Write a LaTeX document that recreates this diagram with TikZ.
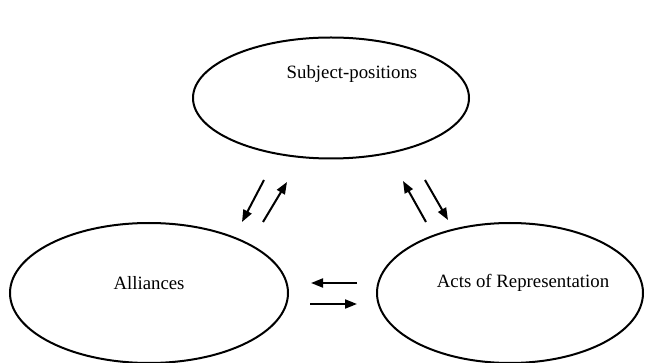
\documentclass[tikz,border=0pt]{standalone}
\usepackage{fontspec}
\setmainfont{Liberation Serif}
\usetikzlibrary{shapes.geometric,arrows.meta}
\begin{document}
\begin{tikzpicture}[x=1pt,y=-1pt,
  oval/.style={draw,ellipse,line width=2pt,inner sep=0pt},
  lbl/.style={font=\fontsize{18.8}{21}\selectfont,inner sep=0pt},
  arr/.style={line width=2pt,-{Triangle[length=12pt,width=9pt]}}]
\useasboundingbox (0,0) rectangle (645,363);
\begin{scope}
\clip (0,0) rectangle (645,363);
\node[oval,minimum width=276pt,minimum height=121pt] (sp) at (331,98) {};
\node[oval,minimum width=278pt,minimum height=140pt] (al) at (149,293) {};
\node[oval,minimum width=266pt,minimum height=140pt] (ar) at (510,293) {};
\end{scope}
\node[lbl] (tsp) at (352,74) {Subject-positions};
\node[lbl] (tal) at (149,283) {Alliances};
\node[lbl] (tar) at (523,283) {Acts of Representation};
\coordinate (l1s) at (264,180); \coordinate (l1e) at (242,222);
\coordinate (l2s) at (263,222); \coordinate (l2e) at (287,182);
\coordinate (r1s) at (426,222); \coordinate (r1e) at (403,181);
\coordinate (r2s) at (425,180); \coordinate (r2e) at (448,220);
\coordinate (h1s) at (357,283); \coordinate (h1e) at (311,283);
\coordinate (h2s) at (310,304); \coordinate (h2e) at (357,304);
\draw[arr] (l1s) -- (l1e);
\draw[arr] (l2s) -- (l2e);
\draw[arr] (r1s) -- (r1e);
\draw[arr] (r2s) -- (r2e);
\draw[arr] (h1s) -- (h1e);
\draw[arr] (h2s) -- (h2e);
\end{tikzpicture}
\end{document}
